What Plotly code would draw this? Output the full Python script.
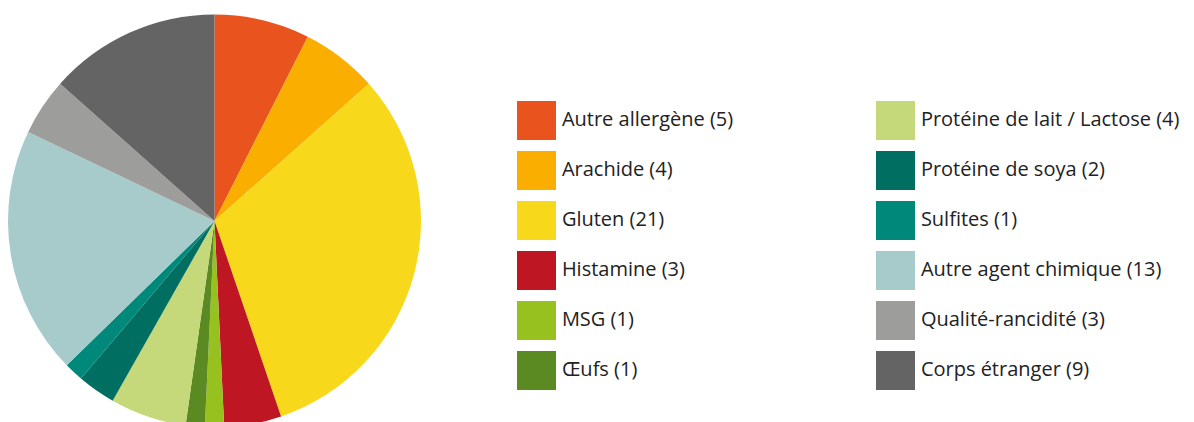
import plotly.graph_objects as go

labels = ["Autre allergène", "Arachide", "Gluten", "Histamine", "MSG", "Œufs",
          "Protéine de lait / Lactose", "Protéine de soya", "Sulfites",
          "Autre agent chimique", "Qualité-rancidité", "Corps étranger"]
values = [5, 4, 21, 3, 1, 1, 4, 2, 1, 13, 3, 9]
colors = ["#E9531E", "#F9AE00", "#F8D81A", "#BE1723", "#97C11F", "#5A8A21",
          "#C5D87A", "#006F62", "#00897A", "#A6CBCA", "#9D9D9C", "#646464"]

W, H = 1194, 422
OFF = 8  # page body margin offset
fig = go.Figure()
# pie: centre ~ (214.5, 221) in window, radius ~206.5
cx, cy, r = 214.5 - OFF, 221 - OFF, 206.5
fig.add_trace(go.Pie(
    labels=labels, values=values, sort=False, direction="clockwise", rotation=0,
    marker=dict(colors=colors, line=dict(width=0)),
    textinfo="none", hoverinfo="label+value", showlegend=False,
    domain=dict(x=[max(0, (cx - r) / W), (cx + r) / W],
                y=[(H - (cy + r)) / H, (H - (cy - r)) / H]),
))

# legend drawn as square swatches + text in pixel-like coordinates
col_x = [536.5 - OFF, 895.5 - OFF]
row_y0, row_step = 120.5 - OFF, 50
lx = [col_x[i // 6] for i in range(len(labels))]
ly = [row_y0 + row_step * (i % 6) for i in range(len(labels))]
ltext = [f"{l} ({v})" for l, v in zip(labels, values)]
fig.add_trace(go.Scatter(
    x=lx, y=ly, mode="markers+text", text=ltext, textposition="middle right",
    marker=dict(symbol="square", size=39, color=colors, line=dict(width=0)),
    textfont=dict(family="Open Sans", size=20, color="#222222"),
    hoverinfo="skip", showlegend=False,
))

fig.update_layout(
    width=W, height=H, margin=dict(l=0, r=0, t=0, b=0),
    paper_bgcolor="white", plot_bgcolor="rgba(0,0,0,0)",
    xaxis=dict(range=[0, W], visible=False, fixedrange=True),
    yaxis=dict(range=[H, 0], visible=False, fixedrange=True),
)
fig.write_html("out.html")
